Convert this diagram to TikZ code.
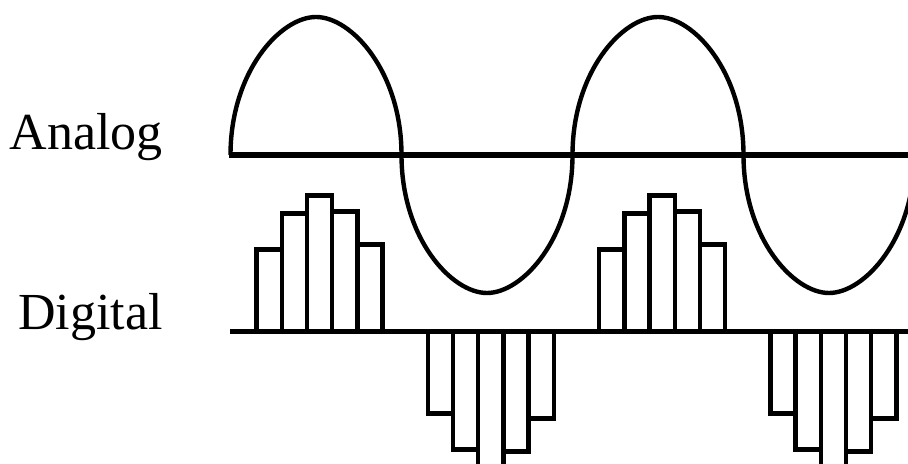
\documentclass[tikz,border=0pt]{standalone}
\usepackage{fontspec}
\setmainfont{Liberation Serif}
\usetikzlibrary{positioning}
\begin{document}
\begin{tikzpicture}[x=0.5pt,y=0.5pt]
  \tikzstyle{sigtext}=[anchor=base east,inner sep=0pt,font=\fontsize{26}{30}\selectfont]
  \tikzstyle{axis}=[line width=2.7pt]
  \tikzstyle{wave}=[line width=2.2pt]
  \tikzstyle{sample}=[draw,line width=2.2pt]
  \useasboundingbox (0,0) rectangle (908,464);
  \node[sigtext] (analog) at (163,314) {Analog};
  \node[sigtext] (digital) at (163,134) {Digital};
  \draw[wave] (230.5,309)
    \foreach \c/\s in {230.5/1,401.5/-1,572.5/1,743.5/-1} {
      .. controls (\c,309+\s*82.8) and (\c+49.6,309+\s*138) .. (\c+85.5,309+\s*138)
      .. controls (\c+121.4,309+\s*138) and (\c+171,309+\s*82.8) .. (\c+171,309)
    };
  \foreach \g/\s in {256.5/1,427.8/-1,599.1/1,770.4/-1}
    \foreach \h [count=\i from 0] in {82,118,136,120,87}
      \draw[sample] (\g+\i*25.2,132.5) rectangle ++(25.2,\s*\h);
  \draw[axis] (229,309) -- (908,309);
  \draw[axis] (230,132.5) -- (908,132.5);
\end{tikzpicture}
\end{document}
